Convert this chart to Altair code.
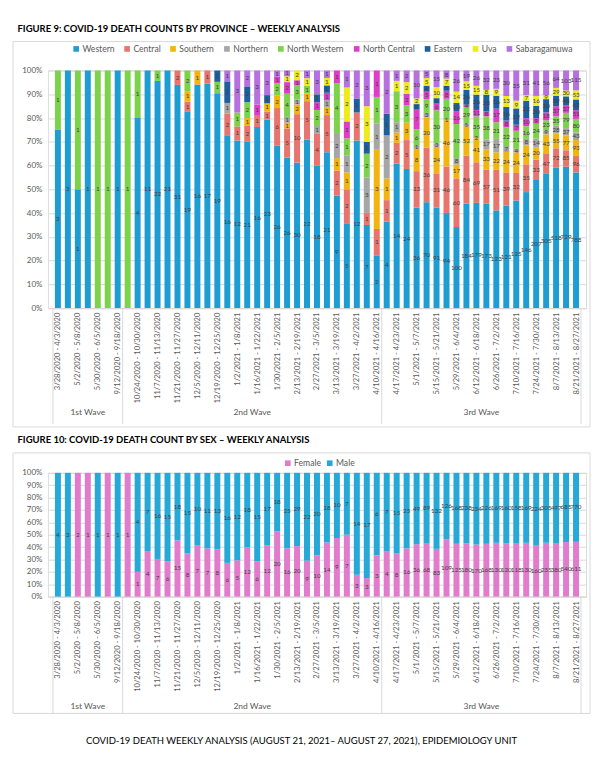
import json
import altair as alt
import pandas as pd

# ---------------- data ----------------
week_labels = [
    "3/28/2020 - 4/3/2020", "", "5/2/2020 - 5/8/2020", "", "5/30/2020 - 6/5/2020", "", "9/12/2020 - 9/18/2020",
    "", "10/24/2020 - 10/30/2020", "", "11/7/2020 - 11/13/2020", "", "11/21/2020 - 11/27/2020", "",
    "12/5/2020 - 12/11/2020", "", "12/19/2020 - 12/25/2020", "", "1/2/2021 - 1/8/2021", "",
    "1/16/2021 - 1/22/2021", "", "1/30/2021 - 2/5/2021", "", "2/13/2021 - 2/19/2021", "",
    "2/27/2021 - 3/5/2021", "", "3/13/2021 - 3/19/2021", "", "3/27/2021 - 4/2/2021", "",
    "4/10/2021 - 4/16/2021", "", "4/17/2021 - 4/23/2021", "", "5/1/2021 - 5/7/2021", "",
    "5/15/2021 - 5/21/2021", "", "5/29/2021 - 6/4/2021", "", "6/12/2021 - 6/18/2021", "",
    "6/26/2021 - 7/2/2021", "", "7/10/2021 - 7/16/2021", "", "7/24/2021 - 7/30/2021", "",
    "8/7/2021 - 8/13/2021", "", "8/21/2021 - 8/27/2021",
]
wave_names = ["1st Wave", "2nd Wave", "3rd Wave"]
wave_centers = [3, 19.5, 42.5]
wave_bounds = [-0.5, 6.5, 32.5, 52.5]

provinces = ["Western", "Central", "Southern", "Northern", "North Western",
             "North Central", "Eastern", "Uva", "Sabaragamuwa"]
province_colors = ["#1E9DD3", "#E8756D", "#F2B50F", "#A6A6A6", "#7DD24C",
                   "#DF3DC8", "#1F5F9E", "#EEEA1C", "#B670E0"]

western = [3, 3, 1, 1, 0, 0, 1, 0, 4, 11, 22, 21, 31, 19, 16, 17, 19, 16, 12, 21, 16, 23, 26, 26, 30, 22, 18,
           21, 9, 5, 12, 7, 2, 4, 14, 24, 36, 70, 91, 94, 100, 184, 179, 173, 123, 121, 125, 146, 207, 305,
           518, 729, 788]
central = [0, 0, 0, 0, 0, 0, 0, 0, 0, 0, 0, 0, 2, 1, 0, 1, 0, 2, 1, 2, 1, 1, 6, 5, 10, 5, 4,
           5, 2, 2, 2, 1, 1, 1, 2, 5, 13, 36, 31, 46, 60, 84, 69, 57, 51, 39, 32, 35, 33, 47,
           72, 85, 96]
southern = [0, 0, 0, 0, 0, 0, 0, 0, 0, 0, 0, 0, 0, 1, 1, 0, 0, 0, 0, 1, 0, 1, 2, 1, 2, 1, 0,
            1, 1, 1, 0, 0, 3, 1, 1, 3, 8, 20, 24, 46, 17, 52, 41, 33, 22, 24, 24, 24, 20, 43,
            55, 77, 93]
northern = [0, 0, 0, 0, 0, 0, 0, 0, 0, 0, 0, 0, 0, 0, 0, 0, 0, 1, 0, 0, 0, 0, 0, 1, 1, 0, 1,
            1, 2, 1, 0, 3, 1, 2, 1, 0, 1, 3, 3, 1, 8, 5, 2, 17, 17, 7, 4, 8, 14, 9,
            28, 37, 43]
north_western = [1, 0, 1, 0, 1, 1, 0, 1, 1, 0, 1, 0, 0, 2, 0, 0, 1, 0, 1, 2, 0, 0, 2, 4, 3, 1, 2,
                 0, 4, 1, 0, 2, 1, 0, 3, 3, 6, 9, 30, 20, 42, 29, 35, 38, 21, 22, 21, 16, 24, 23,
                 35, 79, 80]
north_central = [0, 0, 0, 0, 0, 0, 0, 0, 0, 0, 0, 0, 0, 0, 0, 0, 0, 0, 0, 0, 1, 0, 1, 2, 1, 0, 1,
                 1, 1, 1, 0, 0, 1, 0, 0, 2, 7, 5, 6, 8, 16, 4, 11, 8, 17, 8, 7, 10, 9, 18,
                 37, 37, 51]
eastern = [0, 0, 0, 0, 0, 0, 0, 0, 0, 0, 0, 0, 0, 0, 0, 0, 1, 2, 0, 2, 0, 1, 0, 0, 0, 0, 1,
           1, 0, 0, 1, 1, 0, 1, 0, 0, 2, 4, 5, 5, 10, 26, 26, 28, 16, 16, 19, 22, 20, 30,
           39, 48, 62]
uva = [0, 0, 0, 0, 0, 0, 0, 0, 0, 0, 0, 0, 0, 0, 0, 0, 0, 0, 0, 0, 0, 0, 0, 1, 2, 1, 0,
       1, 0, 2, 0, 3, 0, 0, 1, 2, 2, 5, 10, 7, 14, 15, 15, 8, 9, 13, 9, 7, 16, 9,
       29, 30, 53]
sabaragamuwa = [0, 0, 0, 0, 0, 0, 0, 0, 0, 0, 0, 0, 0, 0, 0, 0, 0, 1, 3, 2, 3, 3, 1, 1, 0, 1, 3,
                1, 0, 1, 2, 3, 0, 2, 1, 2, 10, 5, 15, 8, 26, 19, 26, 32, 23, 30, 35, 31, 41, 56,
                64, 103, 115]

sexes = ["Female", "Male"]
sex_colors = ["#E07CCB", "#27A9D8"]
female = [0, 0, 2, 1, 0, 1, 0, 1, 1, 4, 7, 6, 15, 8, 7, 7, 8, 6, 5, 12, 6, 12, 20, 16, 20, 9, 10,
          14, 9, 7, 3, 3, 3, 4, 8, 16, 36, 68, 83, 109, 125, 180, 170, 168, 130, 120, 118, 130, 160, 235,
          380, 540, 611]
male = [4, 3, 0, 0, 1, 0, 1, 0, 4, 7, 16, 15, 18, 15, 10, 11, 13, 16, 12, 18, 15, 17, 18, 25, 29, 22, 20,
        18, 10, 7, 14, 17, 6, 7, 15, 25, 49, 89, 132, 126, 168, 238, 234, 226, 169, 160, 158, 169, 224, 305,
        497, 685, 770]

# ---------------- helpers ----------------
FONT = "Lato"
W = 539
N = len(week_labels)
label_js = json.dumps(week_labels)


def long_table(names, series):
    rows = []
    for order, (name, vals) in enumerate(zip(names, series)):
        for i, v in enumerate(vals):
            if v > 0:
                rows.append({"idx": i, "cat": name, "count": v, "order": order})
    return pd.DataFrame(rows)


XAXIS = alt.Axis(values=list(range(0, N, 2)), labelExpr=f"{label_js}[datum.value]",
                 labelAngle=270, labelFontSize=7.6, labelColor="#595959", labelFont=FONT,
                 grid=False, ticks=False, domainColor="#D9D9D9", labelPadding=4,
                 labelOverlap=False, labelFlush=False, labelBound=False, title=None)
YAXIS = alt.Axis(values=[i / 10 for i in range(11)], format=".0%", grid=True,
                 gridColor="#D9D9D9", domain=False, ticks=False, labelFontSize=8,
                 labelColor="#595959", labelFont=FONT, labelPadding=6,
                 labelOverlap=False, labelFlush=False, title=None)


def panel(df, names, colors, H, title, legend_x, legend_y, frame_top, frame_bottom, wave_y, sep_bottom,
          col_pad):
    xscale = alt.Scale(domain=[-0.5, N - 0.5], nice=False, zero=False)
    yscale = alt.Scale(domain=[0, 1], nice=False)
    base = alt.Chart(df).transform_stack(
        stack="count", groupby=["idx"], as_=["y0", "y1"], offset="normalize",
        sort=[alt.SortField("order", order="ascending")]
    ).transform_calculate(mid="(datum.y0 + datum.y1) / 2")

    bars = base.mark_bar(size=6).encode(
        x=alt.X("idx:Q", scale=xscale, axis=XAXIS),
        y=alt.Y("y0:Q", scale=yscale, axis=YAXIS),
        y2="y1:Q",
        color=alt.Color("cat:N", scale=alt.Scale(domain=names, range=colors), title=None,
                        legend=alt.Legend(orient="none", legendX=legend_x, legendY=legend_y,
                                          direction="horizontal", symbolType="square", symbolSize=32,
                                          symbolStrokeWidth=0, labelFontSize=8.6, labelColor="#595959",
                                          labelFont=FONT, columnPadding=col_pad, labelOffset=2,
                                          padding=0)),
    )
    texts = base.mark_text(fontSize=6.3, color="#404040", font=FONT).encode(
        x=alt.X("idx:Q", scale=xscale, axis=XAXIS), y=alt.Y("mid:Q", scale=yscale, axis=YAXIS),
        text="count:Q"
    )
    frame = alt.Chart(alt.Data(values=[{"a": 1}])).mark_rect(
        filled=False, stroke="#D9D9D9", strokeWidth=1
    ).encode(x=alt.value(-35), x2=alt.value(W + 4), y=alt.value(frame_top), y2=alt.value(frame_bottom))
    seps = alt.Chart(pd.DataFrame({"b": wave_bounds})).mark_rule(color="#D9D9D9", strokeWidth=1).encode(
        x=alt.X("b:Q", scale=xscale, axis=XAXIS), y=alt.value(H), y2=alt.value(sep_bottom)
    )
    waves = alt.Chart(pd.DataFrame({"w": wave_names, "c": wave_centers})).mark_text(
        fontSize=8.5, color="#595959", font=FONT
    ).encode(x=alt.X("c:Q", scale=xscale, axis=XAXIS), y=alt.value(wave_y), text="w:N")

    return alt.layer(frame, bars, texts, seps, waves).properties(
        width=W, height=H,
        title=alt.TitleParams(title, anchor="start", fontSize=9.5, font=FONT, fontWeight="bold",
                              color="#000000", dx=5, offset=8),
    )


prov_df = long_table(provinces, [western, central, southern, northern, north_western,
                                 north_central, eastern, uva, sabaragamuwa])
sex_df = long_table(sexes, [female, male])

top = panel(prov_df, provinces, province_colors, 238,
            "FIGURE 9: COVID-19 DEATH COUNTS BY PROVINCE \u2013 WEEKLY ANALYSIS",
            legend_x=24, legend_y=-26, frame_top=-29, frame_bottom=238 + 119,
            wave_y=238 + 104, sep_bottom=238 + 116, col_pad=8)
bottom = panel(sex_df, sexes, sex_colors, 124,
               "FIGURE 10: COVID-19 DEATH COUNT BY SEX \u2013 WEEKLY ANALYSIS",
               legend_x=236, legend_y=-14, frame_top=-20, frame_bottom=124 + 117,
               wave_y=124 + 110, sep_bottom=124 + 117, col_pad=4)

chart = alt.vconcat(top, bottom, spacing=6).resolve_scale(
    color="independent", x="independent", y="independent"
).resolve_legend(color="independent").properties(
    title=alt.TitleParams(
        "COVID-19 DEATH WEEKLY ANALYSIS (AUGUST 21, 2021\u2013 AUGUST 27, 2021), EPIDEMIOLOGY UNIT",
        orient="bottom", anchor="middle", fontSize=9.5, font=FONT, fontWeight="normal",
        color="#000000", offset=22),
    padding={"left": 4, "right": 1, "top": 14, "bottom": 6},
).configure_view(stroke=None).configure(background="white")

chart.save("out.html", embed_options={"renderer": "svg", "actions": False})
